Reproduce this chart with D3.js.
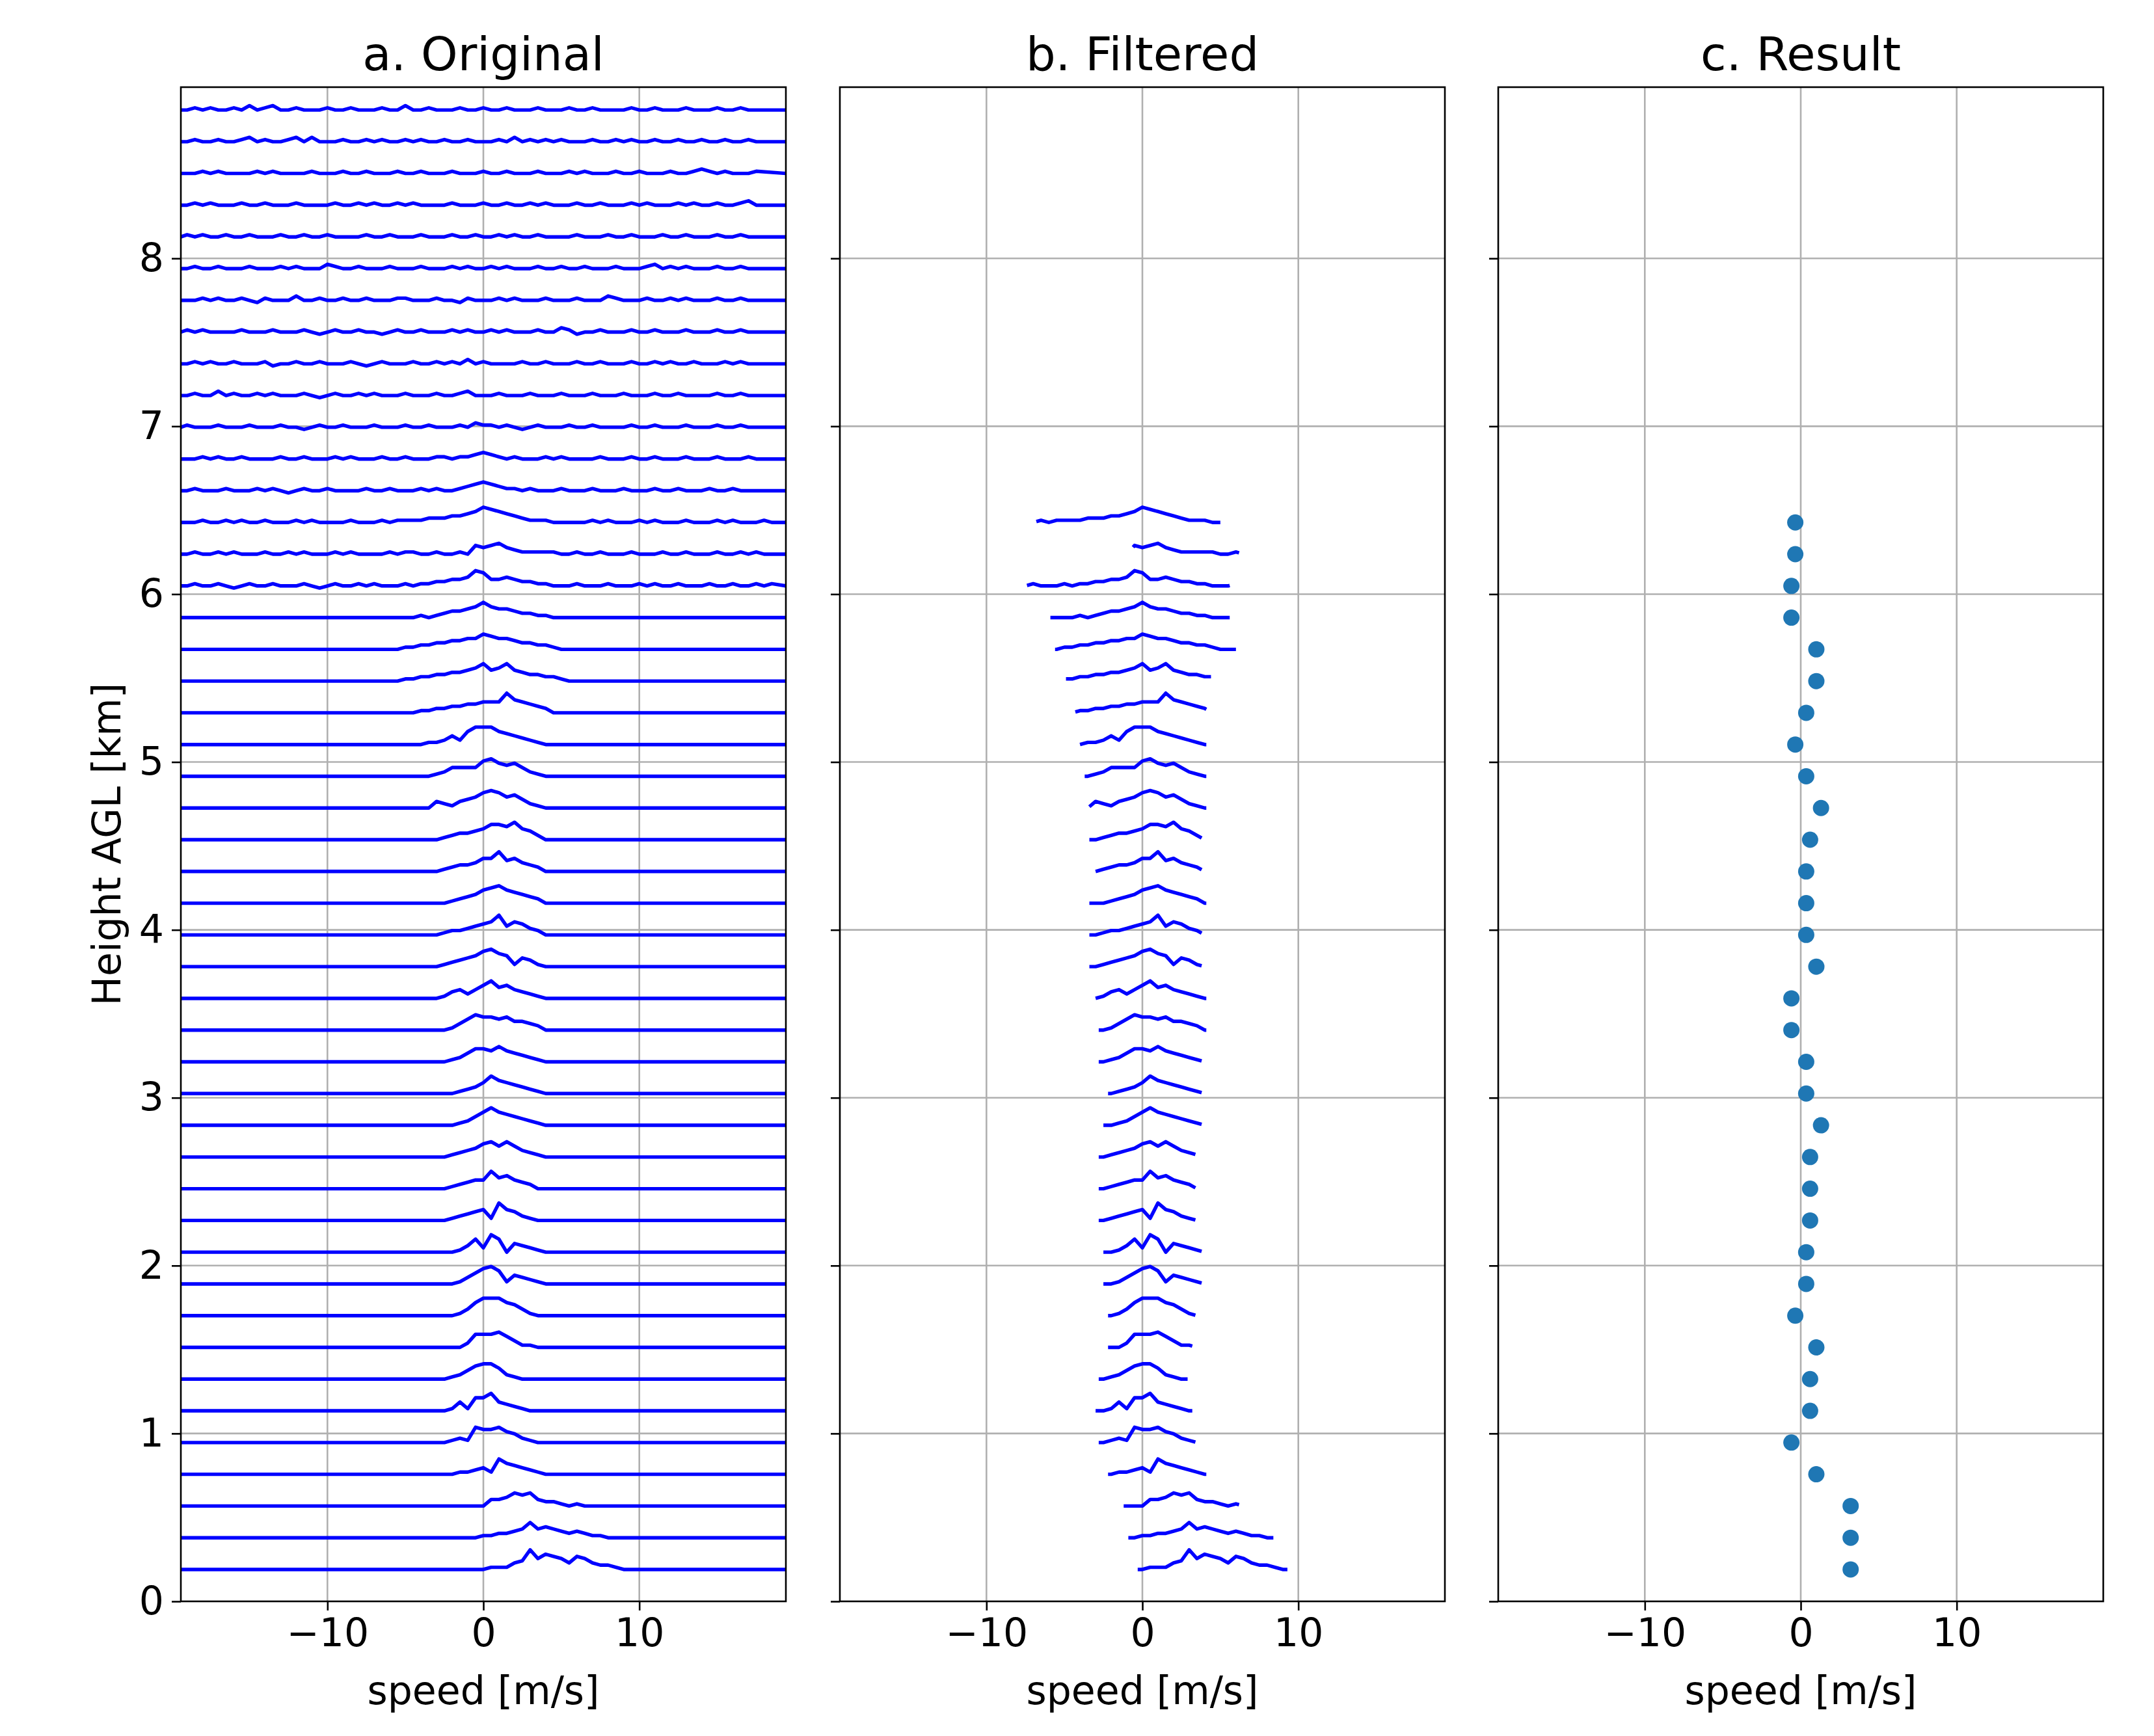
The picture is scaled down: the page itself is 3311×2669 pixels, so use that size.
<!DOCTYPE html>
<html>
<head>
<meta charset="utf-8">
<script src="https://cdn.jsdelivr.net/npm/d3@7"></script>
<style>
  body { margin: 0; background: #fff; }
  text { font-family: "DejaVu Sans", sans-serif; fill: #000; }
</style>
</head>
<body>
<svg id="chart" width="3311" height="2669"></svg>
<script>
// range gates (km AGL)
const heights = d3.range(47).map(i => +(0.19 + i * 0.189).toFixed(3));

// spectra: start speed (m/s), then one hex digit per 0.5 m/s, '2' = baseline, step 0.013 km
const specStart = [-0.5, -1, -1.5, -2.5, -3, -3, -3, -2.5, -2.5, -2.5, -2.5, -3, -3, -3, -2.5, -2.5,
  -3, -3, -3.5, -3.5, -3.5, -3, -3.5, -3.5, -4, -4, -4.5, -5, -6, -6, -7.5,
  -19, -19, -19, -19, -19, -19, -19, -19, -19, -19, -19, -19, -19, -19, -19, -19];
const specShape = [
  "2233356b7987587544322",
  "22334456967654543322",
  "22225568785443232",
  "223345397654322",
  "22343988976432",
  "2236388a65432",
  "2234689974322",
  "2224888975332",
  "22358aaa87532",
  "223579a8365432",
  "223584a8265432",
  "22345673a76432",
  "2234566a786542",
  "223456897975432",
  "223468a8765432",
  "223457a8765432",
  "223468879765432",
  "223579887866542",
  "22356468a7865432",
  "22345679a8736532",
  "223445678b687542",
  "22345689a876542",
  "223455688b786542",
  "22345567998a7642",
  "225435679a9786432",
  "223466669a8786432",
  "22334648aaa8765432",
  "2233445566777b876542",
  "223344556678a78a765544322",
  "223344556677987765544322",
  "222222232345567976654433222",
  "2322321232232223212322323222323344556985565443322232223222323223222322322323",
  "2322323222322323222323222232332232232656754333332232232223222322322232232322",
  "2232232322322232322223222323333444556798765433322222323222323222322232322232",
  "23222322232321232232222322322232322345654332322232223222322232232223223222",
  "22323223222232232223232223223222332334543232223232222322232232223222322232",
  "32223222322232212322322232223223222324332321232223223222232232223222322322",
  "23224232232322232123223232223222322342223222322232223222322232232222322322",
  "23232232223122322322232123222322323242322223223222322322232232322322232322",
  "32322223222322232123223221232232223232232322232243122322232232223222322322",
  "22323223213222422322322322233222322132223232223222322243222322323222322322",
  "23223222322232322243223222322232223232232322232232232223222342323222322322",
  "32322322322232232232222322322232223223223232232222322232232223223222322322",
  "23232223223222322223223232232322223222322322323222322322232322232322322342",
  "22323222232322223222322322232232223222322322232223232223223222322343232223",
  "23223223423223424222322323223232232232223242323232223223232232232232232232",
  "23232232423422322232232223224223222322322322232223223222232232223222322322"
];

// panel b: extent of the filtered spectrum (m/s), one per gate up to 6.43 km
const bLo = [-0.3, -0.9, -1.2, -2.2, -2.8, -3.0, -2.8, -2.2, -2.2, -2.5, -2.5, -2.8, -2.8, -2.8, -2.5, -2.2,
  -2.8, -2.8, -3.0, -3.4, -3.4, -3.4, -3.0, -3.4, -3.4, -3.7, -4.0, -4.3, -4.9, -5.6, -5.9, -7.4, -0.6, -6.8];
const bHi = [9.3, 8.4, 6.2, 4.1, 3.4, 3.2, 2.9, 3.2, 3.4, 3.8, 3.8, 3.4, 3.4, 3.4, 3.8, 3.8,
  3.8, 4.1, 4.1, 3.8, 3.8, 4.1, 3.8, 3.8, 4.1, 4.1, 4.1, 4.1, 4.4, 6.0, 5.6, 5.6, 6.2, 5.0];

// panel c: retrieved speed per gate (m/s)
const resultSpeed = [3.2, 3.2, 3.2, 1.0, -0.6, 0.6, 0.6, 1.0, -0.35, 0.35, 0.35, 0.6, 0.6, 0.6, 1.3, 0.35,
  0.35, -0.6, -0.6, 1.0, 0.35, 0.35, 0.35, 0.6, 1.3, 0.35, -0.35, 0.35, 1.0, 1.0, -0.6, -0.6, -0.35, -0.35];

const panelTitles = ["a. Original", "b. Filtered", "c. Result"];
const xTicks = [-10, 0, 10];
const yTicks = [0, 1, 2, 3, 4, 5, 6, 7, 8];

const svg = d3.select("#chart");
const panelX = [278, 1291, 2303];
const panelW = 930, plotTop = 134, plotBottom = 2462;
const x0 = -19.4, x1 = 19.4;
const y = d3.scaleLinear().domain([0, 9.02]).range([plotBottom, plotTop]);
const fmt = d => d < 0 ? "\u2212" + Math.abs(d) : String(d);

function specPoints(i) {
  const s = specShape[i];
  return Array.from(s, (c, k) => [specStart[i] + 0.5 * k, (parseInt(c, 16) - 2) * 0.013]);
}

panelX.forEach((px, p) => {
  const x = d3.scaleLinear().domain([x0, x1]).range([px, px + panelW]);
  const g = svg.append("g");

  // grid
  g.selectAll(".gx").data(xTicks).join("line")
    .attr("x1", d => x(d)).attr("x2", d => x(d)).attr("y1", plotTop).attr("y2", plotBottom)
    .attr("stroke", "#b0b0b0").attr("stroke-width", 2.6);
  g.selectAll(".gy").data(yTicks.slice(1)).join("line")
    .attr("x1", px).attr("x2", px + panelW).attr("y1", d => y(d)).attr("y2", d => y(d))
    .attr("stroke", "#b0b0b0").attr("stroke-width", 2.6);

  const clip = "clip" + p;
  svg.append("clipPath").attr("id", clip).append("rect")
    .attr("x", px).attr("y", plotTop).attr("width", panelW).attr("height", plotBottom - plotTop);
  const plot = g.append("g").attr("clip-path", `url(#${clip})`);

  const line = d3.line().x(d => x(d[0]));

  if (p === 0) {
    heights.forEach((h, i) => {
      const pts = [[x0, 0], ...specPoints(i)];
      const last = pts[pts.length - 1][0];
      if (last < x1) pts.push([x1, 0]);
      plot.append("path").attr("d", line.y(d => y(h + d[1]))(pts))
        .attr("fill", "none").attr("stroke", "#0000ff").attr("stroke-width", 5.4)
        .attr("stroke-linejoin", "round");
    });
  } else if (p === 1) {
    bLo.forEach((lo, i) => {
      const h = heights[i], hi = bHi[i];
      const all = specPoints(i);
      const val = v => {
        for (let k = 0; k < all.length - 1; k++) {
          if (v >= all[k][0] && v <= all[k + 1][0]) {
            const t = (v - all[k][0]) / (all[k + 1][0] - all[k][0]);
            return all[k][1] + t * (all[k + 1][1] - all[k][1]);
          }
        }
        return 0;
      };
      const pts = [[lo, val(lo)], ...all.filter(d => d[0] > lo && d[0] < hi), [hi, val(hi)]];
      plot.append("path").attr("d", line.y(d => y(h + d[1]))(pts))
        .attr("fill", "none").attr("stroke", "#0000ff").attr("stroke-width", 5.4)
        .attr("stroke-linejoin", "round");
    });
  } else {
    plot.selectAll("circle").data(resultSpeed).join("circle")
      .attr("cx", d => x(d)).attr("cy", (d, i) => y(heights[i]))
      .attr("r", 12.5).attr("fill", "#1f77b4");
  }

  // frame
  g.append("rect").attr("x", px).attr("y", plotTop).attr("width", panelW).attr("height", plotBottom - plotTop)
    .attr("fill", "none").attr("stroke", "#000").attr("stroke-width", 2.6);

  // x axis
  const xa = g.append("g").attr("transform", `translate(0,${plotBottom})`)
    .call(d3.axisBottom(x).tickValues(xTicks).tickFormat(fmt).tickSize(14).tickPadding(12));
  xa.select(".domain").remove();
  xa.selectAll("line").attr("stroke-width", 2.6);
  xa.selectAll("text").attr("font-size", 60).attr("font-family", "DejaVu Sans");

  // y axis
  const ya = g.append("g").attr("transform", `translate(${px},0)`)
    .call(d3.axisLeft(y).tickValues(yTicks).tickSize(14).tickPadding(12)
      .tickFormat(p === 0 ? d3.format("d") : () => ""));
  ya.select(".domain").remove();
  ya.selectAll("line").attr("stroke-width", 2.6);
  ya.selectAll("text").attr("font-size", 60).attr("font-family", "DejaVu Sans");

  g.append("text").attr("x", px + panelW / 2).attr("y", 108).attr("text-anchor", "middle")
    .attr("font-size", 72).text(panelTitles[p]);
  g.append("text").attr("x", px + panelW / 2).attr("y", 2620).attr("text-anchor", "middle")
    .attr("font-size", 60).text("speed [m/s]");
});

svg.append("text").attr("transform", `translate(185,${(plotTop + plotBottom) / 2}) rotate(-90)`)
  .attr("text-anchor", "middle").attr("font-size", 60).text("Height AGL [km]");
</script>
</body>
</html>
